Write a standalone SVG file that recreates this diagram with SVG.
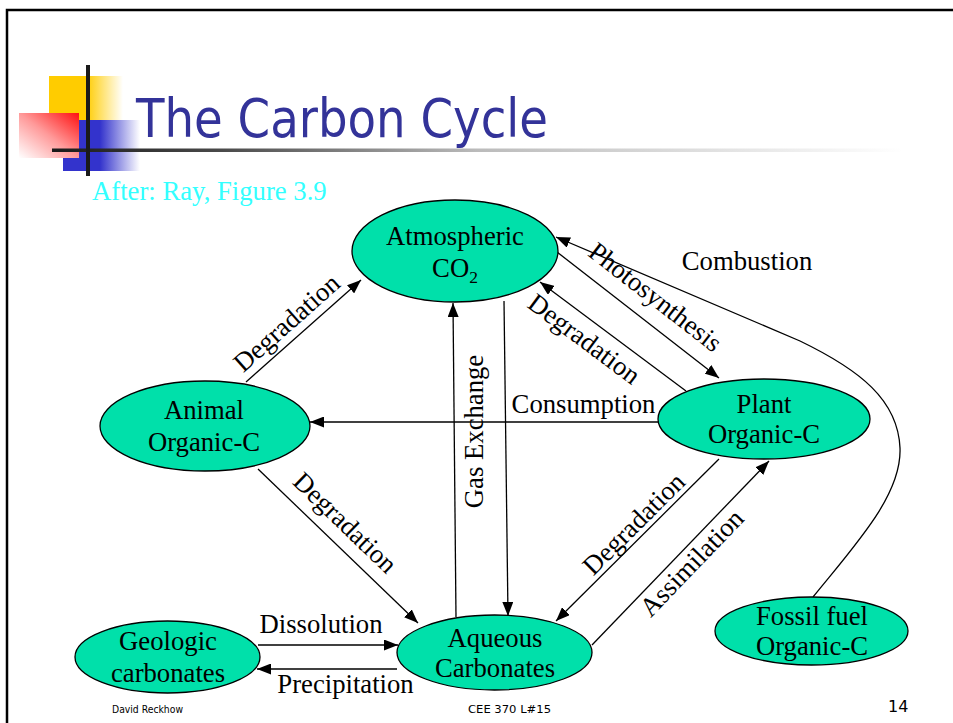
<svg xmlns="http://www.w3.org/2000/svg" width="953" height="723" viewBox="0 0 953 723">
<style>
.node{fill:#00E0AA;stroke:#000;stroke-width:1.3}
.nt{font-family:"Liberation Serif","Times New Roman",serif;font-size:26.7px;fill:#000;text-anchor:middle}
.lb{font-family:"Liberation Serif","Times New Roman",serif;font-size:26.7px;fill:#000;text-anchor:middle}
.cn{fill:none;stroke:#000;stroke-width:1.3}
.ft{font-family:"DejaVu Sans",Tahoma,sans-serif;fill:#000}
</style>
<defs>
<marker id="ah" markerUnits="userSpaceOnUse" markerWidth="15" markerHeight="11" refX="14" refY="5.5" orient="auto">
<path d="M0,0 L14,5.5 L0,11 z" fill="#000"/>
</marker>
<linearGradient id="gy" x1="0" y1="0" x2="1" y2="0">
<stop offset="0" stop-color="#FFCC00"/><stop offset="0.5" stop-color="#FFCC00"/><stop offset="1" stop-color="#FFCC00" stop-opacity="0"/>
</linearGradient>
<linearGradient id="gb" x1="0" y1="0" x2="1" y2="0">
<stop offset="0" stop-color="#3333CC"/><stop offset="0.48" stop-color="#3333CC"/><stop offset="1" stop-color="#3333CC" stop-opacity="0"/>
</linearGradient>
<linearGradient id="gr" x1="1" y1="0" x2="0" y2="1">
<stop offset="0" stop-color="#FF1010"/><stop offset="0.5" stop-color="#FF9A9A"/><stop offset="1" stop-color="#FFFFFF"/>
</linearGradient>
<linearGradient id="gl" gradientUnits="userSpaceOnUse" x1="52" y1="0" x2="903" y2="0">
<stop offset="0" stop-color="#1A1A1A"/><stop offset="0.2" stop-color="#4A4A4A"/><stop offset="0.5" stop-color="#BBBBBB"/><stop offset="1" stop-color="#FFFFFF"/>
</linearGradient>
</defs>
<rect width="953" height="723" fill="#fff"/>
<path d="M7,723 V10 H953" fill="none" stroke="#000" stroke-width="2.5"/>
<g id="logo">
<rect x="49" y="76" width="74" height="44" fill="url(#gy)"/>
<rect x="63" y="120" width="77" height="51" fill="url(#gb)"/>
<rect x="19" y="113" width="60" height="45" fill="url(#gr)"/>
<rect x="52" y="148.5" width="851" height="3.5" fill="url(#gl)"/>
<rect x="86" y="65" width="4" height="111" fill="#1A1A1A"/>
</g>
<text x="136" y="137" font-family="'DejaVu Sans',Tahoma,sans-serif" font-size="54" fill="#333399" textLength="412" lengthAdjust="spacingAndGlyphs">The Carbon Cycle</text>
<text x="92" y="200" font-family="'Liberation Serif','Times New Roman',serif" font-size="26.7" fill="#33FFFF">After: Ray, Figure 3.9</text>

<g id="connectors">
<line class="cn" x1="246" y1="382" x2="361" y2="280" marker-end="url(#ah)"/>
<line class="cn" x1="456" y1="617" x2="453" y2="303" marker-end="url(#ah)"/>
<line class="cn" x1="504" y1="301" x2="508" y2="616" marker-end="url(#ah)"/>
<line class="cn" x1="658" y1="422" x2="310" y2="422" marker-end="url(#ah)"/>
<line class="cn" x1="557" y1="252" x2="719" y2="378" marker-end="url(#ah)"/>
<line class="cn" x1="686" y1="391" x2="540" y2="282" marker-end="url(#ah)"/>
<path class="cn" d="M813,597 C855,545 902,495 900,448 C898,400 860,370 800,341 L556,237" marker-end="url(#ah)"/>
<line class="cn" x1="258" y1="469" x2="418" y2="623" marker-end="url(#ah)"/>
<line class="cn" x1="719" y1="459" x2="556" y2="621" marker-end="url(#ah)"/>
<line class="cn" x1="592" y1="645" x2="769" y2="461" marker-end="url(#ah)"/>
<line class="cn" x1="258" y1="645" x2="398" y2="645" marker-end="url(#ah)"/>
<line class="cn" x1="397" y1="669" x2="257" y2="669" marker-end="url(#ah)"/>
<text class="lb" transform="translate(292.5,329.5) rotate(-41.6)">Degradation</text>
<text class="lb" transform="translate(483,431.5) rotate(-90)">Gas Exchange</text>
<text class="lb" x="583.5" y="413">Consumption</text>
<text class="lb" transform="translate(650,304) rotate(37.8)">Photosynthesis</text>
<text class="lb" transform="translate(579,346) rotate(36.7)">Degradation</text>
<text class="lb" x="747" y="270">Combustion</text>
<text class="lb" transform="translate(339,529) rotate(43.9)">Degradation</text>
<text class="lb" transform="translate(640,530) rotate(-44.8)">Degradation</text>
<text class="lb" transform="translate(698,569) rotate(-46.1)">Assimilation</text>
<text class="lb" x="321" y="633">Dissolution</text>
<text class="lb" x="345.5" y="693">Precipitation</text>
</g>

<g id="atmospheric">
<ellipse class="node" cx="455" cy="251" rx="103" ry="51"/>
<text class="nt" x="455" y="245">Atmospheric</text>
<text class="nt" x="455" y="277">CO<tspan font-size="17.5" dy="6">2</tspan></text>
</g>
<g id="animal">
<ellipse class="node" cx="205" cy="426" rx="105" ry="45"/>
<text class="nt" x="204" y="419">Animal</text>
<text class="nt" x="204" y="451">Organic-C</text>
</g>
<g id="plant">
<ellipse class="node" cx="764" cy="419" rx="106" ry="40"/>
<text class="nt" x="764" y="413">Plant</text>
<text class="nt" x="764" y="443">Organic-C</text>
</g>
<g id="fossil">
<ellipse class="node" cx="811.5" cy="631" rx="96.5" ry="34"/>
<text class="nt" x="812" y="625">Fossil fuel</text>
<text class="nt" x="812" y="655">Organic-C</text>
</g>
<g id="geologic">
<ellipse class="node" cx="167.5" cy="657" rx="92.5" ry="36"/>
<text class="nt" x="168" y="650">Geologic</text>
<text class="nt" x="168" y="682">carbonates</text>
</g>
<g id="aqueous">
<ellipse class="node" cx="494.5" cy="652.5" rx="97.5" ry="37.5"/>
<text class="nt" x="495" y="647">Aqueous</text>
<text class="nt" x="495" y="677">Carbonates</text>
</g>

<text class="ft" x="112" y="713" font-size="10" textLength="71" lengthAdjust="spacingAndGlyphs">David Reckhow</text>
<text class="ft" x="468" y="713" font-size="11" textLength="83" lengthAdjust="spacingAndGlyphs">CEE 370 L#15</text>
<text class="ft" x="888" y="712" font-size="16">14</text>
</svg>
